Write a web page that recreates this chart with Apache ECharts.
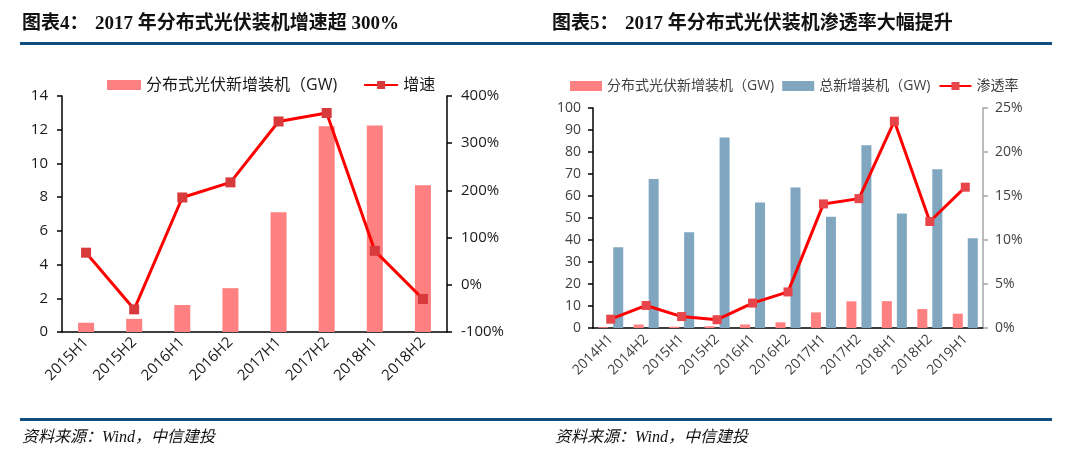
<!DOCTYPE html>
<html>
<head>
<meta charset="utf-8">
<script src="https://cdn.jsdelivr.net/npm/echarts@6/dist/echarts.min.js"></script>
<style>
html,body{margin:0;padding:0;background:#fff;}
#c{width:1080px;height:460px;}
</style>
</head>
<body>
<div id="c"></div>
<script>
// Chart 4 data
const cats4 = ['2015H1','2015H2','2016H1','2016H2','2017H1','2017H2','2018H1','2018H2'];
const distNew4 = [0.55, 0.78, 1.6, 2.6, 7.1, 12.2, 12.25, 8.7];
const growth4 = [68, -52, 185, 217, 346, 364, 72, -30];

// Chart 5 data
const cats5 = ['2014H1','2014H2','2015H1','2015H2','2016H1','2016H2','2017H1','2017H2','2018H1','2018H2','2019H1'];
const distNew5 = [0.37, 1.6, 0.57, 0.81, 1.6, 2.6, 7.1, 12.1, 12.2, 8.6, 6.5];
const totalNew5 = [36.7, 67.7, 43.5, 86.6, 57.1, 63.9, 50.6, 83.1, 52.1, 72.2, 40.8];
const penetration5 = [1.0, 2.56, 1.3, 0.94, 2.83, 4.1, 14.1, 14.7, 23.5, 12.1, 16.0];

const title4a = '图表4：';
const title4b = '2017 年分布式光伏装机增速超 300%';
const title5a = '图表5：';
const title5b = '2017 年分布式光伏装机渗透率大幅提升';
const source = '资料来源：Wind，中信建投';

const nameDist = '分布式光伏新增装机（GW)';
const nameGrowth = '增速';
const nameTotal = '总新增装机（GW)';
const namePen = '渗透率';

const FONT = "'Open Sans','Noto Sans CJK SC',sans-serif";
const TFONT = "'Liberation Serif','Noto Sans CJK SC',serif";

const chart = echarts.init(document.getElementById('c'), null, {renderer:'canvas'});

const option = {
  backgroundColor:'#fff',
  animation:false,
  textStyle:{fontFamily:FONT},
  graphic:[
    {type:'rect', shape:{x:20,y:42,width:1032,height:3}, style:{fill:'#0f4d80'}},
    {type:'rect', shape:{x:20,y:418,width:1032,height:3}, style:{fill:'#0f4d80'}},
    {type:'text', x:22, y:24, style:{text:title4a, font:"bold 19px " + TFONT, fill:'#111', verticalAlign:'middle'}},
    {type:'text', x:95, y:24, style:{text:title4b, font:"bold 19px " + TFONT, fill:'#111', verticalAlign:'middle'}},
    {type:'text', x:552, y:24, style:{text:title5a, font:"bold 19px " + TFONT, fill:'#111', verticalAlign:'middle'}},
    {type:'text', x:625, y:24, style:{text:title5b, font:"bold 19px " + TFONT, fill:'#111', verticalAlign:'middle'}},
    {type:'text', x:22, y:438, style:{text:source, font:"italic 16px " + TFONT, fill:'#111', verticalAlign:'middle'}},
    {type:'text', x:555, y:438, style:{text:source, font:"italic 16px " + TFONT, fill:'#111', verticalAlign:'middle'}}
  ],
  legend:[
    {left:102, top:72, itemGap:26, itemWidth:34, itemHeight:10,
     textStyle:{fontSize:16, color:'#1a1a1a', fontFamily:FONT},
     data:[{name:nameDist, icon:'rect'}, {name:nameGrowth}]},
    {left:565, top:74, itemGap:8, itemWidth:32, itemHeight:10,
     textStyle:{fontSize:14, color:'#404040', fontFamily:FONT},
     data:[{name:nameDist, icon:'rect'}, {name:nameTotal, icon:'rect'}, {name:namePen}]}
  ],
  grid:[
    {left:62, top:96, width:385, height:236},
    {left:593, top:108, width:390, height:220}
  ],
  xAxis:[
    {type:'category', gridIndex:0, data:cats4,
     axisLine:{lineStyle:{color:'#000', width:1.5}},
     axisTick:{length:5, lineStyle:{color:'#000', width:1.5}},
     axisLabel:{rotate:45, fontSize:15, color:'#1a1a1a', margin:8, interval:0}},
    {type:'category', gridIndex:1, data:cats5,
     axisLine:{lineStyle:{color:'#000', width:1.5}},
     axisTick:{length:5, lineStyle:{color:'#000', width:1.5}},
     axisLabel:{rotate:45, fontSize:14, color:'#404040', margin:9, interval:0}}
  ],
  yAxis:[
    {type:'value', gridIndex:0, min:0, max:14, interval:2, position:'left',
     axisLine:{show:true, lineStyle:{color:'#000', width:1.5}},
     axisTick:{show:true, length:5, lineStyle:{color:'#000', width:1.5}},
     splitLine:{show:false},
     axisLabel:{fontSize:15, color:'#1a1a1a', margin:14}},
    {type:'value', gridIndex:0, min:-100, max:400, interval:100, position:'right',
     axisLine:{show:true, lineStyle:{color:'#000', width:1.5}},
     axisTick:{show:true, length:5, lineStyle:{color:'#000', width:1.5}},
     splitLine:{show:false},
     axisLabel:{fontSize:15, color:'#1a1a1a', margin:14, formatter:'{value}%'}},
    {type:'value', gridIndex:1, min:0, max:100, interval:10, position:'left',
     axisLine:{show:true, lineStyle:{color:'#000', width:1.5}},
     axisTick:{show:true, length:5, lineStyle:{color:'#000', width:1.5}},
     splitLine:{show:false},
     axisLabel:{fontSize:14, color:'#404040', margin:12}},
    {type:'value', gridIndex:1, min:0, max:25, interval:5, position:'right',
     axisLine:{show:true, lineStyle:{color:'#a6a6a6', width:1.5}},
     axisTick:{show:true, length:5, lineStyle:{color:'#a6a6a6', width:1.5}},
     splitLine:{show:false},
     axisLabel:{fontSize:14, color:'#404040', margin:12, formatter:'{value}%'}}
  ],
  series:[
    {name:nameDist, type:'bar', xAxisIndex:0, yAxisIndex:0, data:distNew4,
     barWidth:16, itemStyle:{color:'#ff8080'}},
    {name:nameGrowth, type:'line', xAxisIndex:0, yAxisIndex:1, data:growth4,
     symbol:'rect', symbolSize:10, showAllSymbol:true,
     lineStyle:{color:'#ff0000', width:3}, itemStyle:{color:'#d8393b'}},
    {name:nameDist, type:'bar', xAxisIndex:1, yAxisIndex:2, data:distNew5,
     barWidth:10, barGap:'50%', itemStyle:{color:'#ff8080'}},
    {name:nameTotal, type:'bar', xAxisIndex:1, yAxisIndex:2, data:totalNew5,
     barWidth:10, barGap:'50%', itemStyle:{color:'#80a6c0'}},
    {name:namePen, type:'line', xAxisIndex:1, yAxisIndex:3, data:penetration5,
     symbol:'rect', symbolSize:9, showAllSymbol:true,
     lineStyle:{color:'#ff0000', width:3}, itemStyle:{color:'#e8454b'}}
  ]
};
chart.setOption(option);
</script>
</body>
</html>
